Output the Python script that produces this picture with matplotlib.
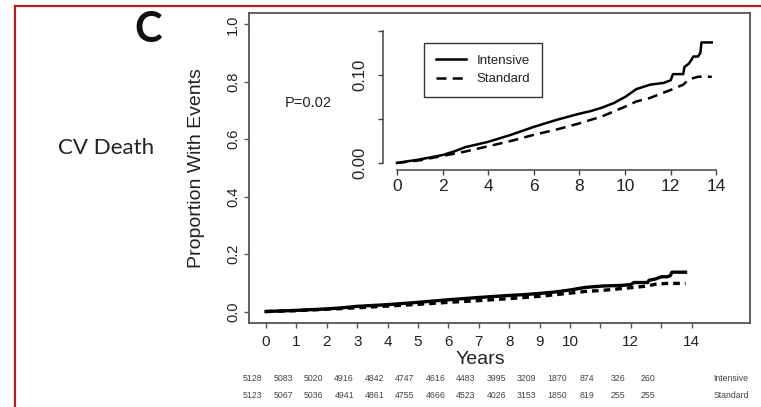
import matplotlib
matplotlib.use("Agg")
import matplotlib.pyplot as plt
from matplotlib.lines import Line2D

# ── data ──
intensive_t = [0, 1, 2, 2.5, 3, 4, 5, 6, 7, 8, 8.5, 9, 9.5, 10, 10.5, 11.1, 11.7,
               12.0, 12.1, 12.55, 12.6, 12.8, 13.0, 13.2, 13.3, 13.35, 13.8]
intensive_y = [0, 0.004, 0.009, 0.013, 0.018, 0.024, 0.032, 0.041, 0.049, 0.056, 0.059,
               0.063, 0.068, 0.075, 0.084, 0.089, 0.091, 0.094, 0.101, 0.101, 0.109,
               0.113, 0.121, 0.121, 0.125, 0.137, 0.137]
standard_t = [0, 1, 2, 3, 4, 5, 6, 7, 8, 9, 10, 10.5, 11, 11.5, 12, 12.55, 12.8, 13.2, 13.8]
standard_y = [0, 0.003, 0.008, 0.013, 0.019, 0.025, 0.032, 0.038, 0.045, 0.053, 0.064,
              0.070, 0.073, 0.078, 0.083, 0.089, 0.095, 0.098, 0.098]

main_xticks = list(range(0, 15))
main_xlabels = ["0", "1", "2", "3", "4", "5", "6", "7", "8", "9", "10", "", "12", "", "14"]
main_yticks = [0.0, 0.2, 0.4, 0.6, 0.8, 1.0]
main_ylabels = ["0.0", "0.2", "0.4", "0.6", "0.8", "1.0"]
inset_xticks = [0, 2, 4, 6, 8, 10, 12, 14]
inset_yticks = [0.0, 0.05, 0.10, 0.15]
inset_ylabels = ["0.00", "", "0.10", ""]

risk_years = list(range(0, 14))
risk_intensive = ["5128", "5083", "5020", "4916", "4842", "4747", "4616", "4483", "3995",
                  "3209", "1870", "874", "326", "260"]
risk_standard = ["5123", "5067", "5036", "4941", "4861", "4755", "4666", "4523", "4026",
                 "3153", "1850", "819", "255", "255"]

W, H = 761, 407
R_FONT = "Liberation Sans"
TXT = "#222222"


def fx(px):
    return px / W


def fy(py):
    return 1 - py / H


fig = plt.figure(figsize=(W / 100, H / 100), dpi=100)
fig.patch.set_facecolor("white")

# red frame (left + top)
red = "#b42020"
fig.add_artist(Line2D([fx(15), fx(15)], [fy(6), 0], color=red, lw=1.6))
fig.add_artist(Line2D([fx(15), 1], [fy(6), fy(6)], color=red, lw=1.6))

fig.text(fx(148), fy(30), "C", fontsize=30, fontweight="bold", family="Lato",
         ha="center", va="center", color="#111111")
fig.text(fx(106), fy(148), "CV Death", fontsize=16, family="Lato",
         ha="center", va="center", color="#222222")

# ── main axes ──
ax = fig.add_axes([fx(249), fy(323), fx(750) - fx(249), fy(13) - fy(323)])
ax.plot(intensive_t, intensive_y, color="black", lw=2.4, ls="-")
ax.plot(standard_t, standard_y, color="black", lw=2.4, ls=(0, (2, 1.5)))
ax.set_xlim(-0.56, 15.92)
ax.set_ylim(-0.04, 1.04)
for s in ax.spines.values():
    s.set_color("#555555")
    s.set_linewidth(1.3)
ax.set_xticks(main_xticks)
ax.set_xticklabels(main_xlabels, family=R_FONT, fontsize=11, color=TXT)
ax.set_yticks(main_yticks)
ax.set_yticklabels(main_ylabels, family=R_FONT, fontsize=10.5, color=TXT,
                   rotation=90, va="center")
ax.tick_params(axis="x", length=3.5, width=1, color="#555555", pad=5)
ax.tick_params(axis="y", length=3.5, width=1, color="#555555", pad=3)
ax.set_ylabel("Proportion With Events", family=R_FONT, fontsize=14, color=TXT)
ax.yaxis.set_label_coords(-0.088, 0.5)
ax.set_xlabel("Years", family=R_FONT, fontsize=14, color=TXT)
ax.xaxis.set_label_coords(0.461, -0.09)

ax.text(0.62, 0.725, "P=0.02", family=R_FONT, fontsize=10.5,
        color=TXT, va="center", ha="left")

# numbers at risk
for i, yr in enumerate(risk_years):
    ax.text(yr - 0.43, -0.232, risk_intensive[i], family=R_FONT, fontsize=6.3,
            color="#444444", ha="center", va="center", clip_on=False)
    ax.text(yr - 0.43, -0.291, risk_standard[i], family=R_FONT, fontsize=6.3,
            color="#444444", ha="center", va="center", clip_on=False)
ax.text(15.3, -0.232, "Intensive", family=R_FONT, fontsize=6.3, color="#444444",
        ha="center", va="center", clip_on=False)
ax.text(15.3, -0.291, "Standard", family=R_FONT, fontsize=6.3, color="#444444",
        ha="center", va="center", clip_on=False)

# ── inset ──
ins = fig.add_axes([fx(383), fy(170), fx(730) - fx(383), fy(26.6) - fy(170)])
ins.patch.set_alpha(0)
ins.plot(intensive_t, intensive_y, color="black", lw=1.8, ls="-", label="Intensive")
ins.plot(standard_t, standard_y, color="black", lw=1.8, ls=(0, (4, 2.5)), label="Standard")
ins.set_xlim(-0.61, 14.6)
ins.set_ylim(-0.008, 0.155)
ins.spines["top"].set_visible(False)
ins.spines["right"].set_visible(False)
ins.spines["left"].set_bounds(0, 0.15)
ins.spines["bottom"].set_bounds(0, 14)
for s in ("left", "bottom"):
    ins.spines[s].set_color("#444444")
    ins.spines[s].set_linewidth(1.1)
ins.set_xticks(inset_xticks)
ins.set_xticklabels([str(v) for v in inset_xticks], family=R_FONT, fontsize=12.5, color=TXT)
ins.set_yticks(inset_yticks)
ins.set_yticklabels(inset_ylabels, family=R_FONT, fontsize=12, color=TXT,
                    rotation=90, va="center")
ins.tick_params(axis="both", length=3.5, width=1, color="#444444")
ins.tick_params(axis="x", pad=3)
ins.tick_params(axis="y", pad=8)

leg = ins.legend(loc="upper left", bbox_to_anchor=(fx(424), fy(43)),
                 bbox_transform=fig.transFigure, borderaxespad=0, fancybox=False,
                 prop={"family": R_FONT, "size": 9.5}, handlelength=2.3,
                 handletextpad=0.8, borderpad=0.9, labelspacing=0.45)
leg.get_frame().set_edgecolor("black")
leg.get_frame().set_linewidth(1.0)
for t in leg.get_texts():
    t.set_color(TXT)

fig.savefig("out.png", dpi=100)
